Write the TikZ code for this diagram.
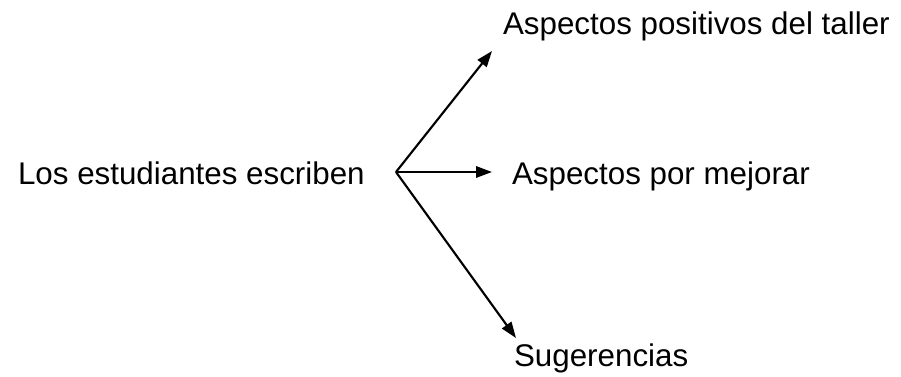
\documentclass[tikz,border=0pt]{standalone}
\usepackage{fontspec}
\setmainfont{Liberation Sans}
\usetikzlibrary{arrows.meta,positioning}

\begin{document}
\begin{tikzpicture}[x=0.75pt,y=-0.75pt,line width=1.6pt,
 txt/.style={anchor=base west,inner sep=0pt,font=\fontsize{23.5}{28}\selectfont},
 branch/.style={-{Triangle[length=12pt,width=8.5pt]}}]
 \useasboundingbox (0,0) rectangle (901,377);
 \node [txt] (students) at (17,185) {Los estudiantes escriben};
 \node [txt] (positive) at (502,35) {Aspectos positivos del taller};
 \node [txt] (improve) at (511,185) {Aspectos por mejorar};
 \node [txt] (suggest) at (513,367) {Sugerencias};
 \coordinate (hub) at (396,172);
 \coordinate (tipA) at (492,51);
 \coordinate (tipB) at (492,172);
 \coordinate (tipC) at (516,338);
 \draw [branch] (hub) -- (tipA);
 \draw [branch] (hub) -- (tipB);
 \draw [branch] (hub) -- (tipC);
\end{tikzpicture}
\end{document}
